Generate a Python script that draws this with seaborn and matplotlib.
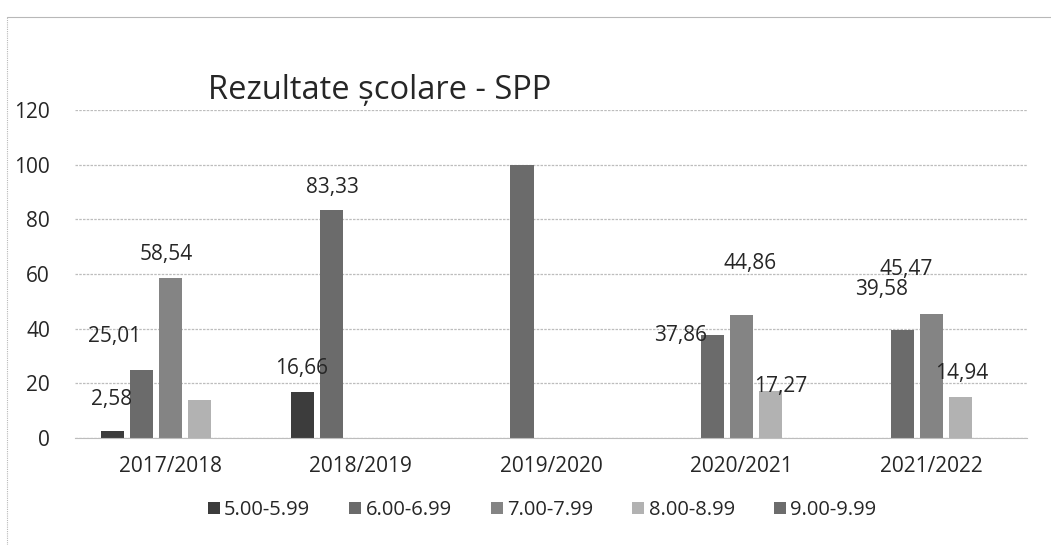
import numpy as np
import pandas as pd
import matplotlib
matplotlib.use('Agg')
import matplotlib.pyplot as plt
from matplotlib.lines import Line2D
import seaborn as sns

# Date
ani = ['2017/2018', '2018/2019', '2019/2020', '2020/2021', '2021/2022']
grupe = ['5.00-5.99', '6.00-6.99', '7.00-7.99', '8.00-8.99', '9.00-9.99']

medii_5 = [2.58, 16.66, 0, 0, 0]
medii_6 = [25.01, 83.33, 100, 37.86, 39.58]
medii_7 = [58.54, 0, 0, 44.86, 45.47]
medii_8 = [13.87, 0, 0, 17.27, 14.94]
medii_9 = [0, 0, 0, 0, 0]

# etichetele vizibile: (an, grupa) -> deplasare (px) fata de varful barei
etichete = {
    (0, 0): (-1, 31), (0, 1): (-27, 33), (0, 2): (-4, 23),
    (1, 0): (-1, 24), (1, 1): (1, 23),
    (3, 1): (-32, -1), (3, 2): (9, 52), (3, 3): (10, 4),
    (4, 1): (-21, 40), (4, 2): (-26, 44), (4, 3): (1, 24),
}

culori = ['#3c3c3c', '#6b6b6b', '#848484', '#b2b2b2', '#6c6c6c']

serii = [medii_5, medii_6, medii_7, medii_8, medii_9]
df = pd.DataFrame([
    {'an': a, 'grupa': g, 'procent': s[i]}
    for g, s in zip(grupe, serii) for i, a in enumerate(ani)
])

sns.set_style('white')
plt.rcParams['font.family'] = ['Open Sans', 'DejaVu Sans']
FONT = '#262626'

fig = plt.figure(figsize=(10.51, 5.45), dpi=100)
ax = fig.add_axes([75 / 1051, 107 / 545, 952 / 1051, 328 / 545])

sns.barplot(data=df, x='an', y='procent', hue='grupa', order=ani, hue_order=grupe,
            palette=culori, width=0.76, gap=0.2, linewidth=0, ax=ax, legend=False)

ax.set_ylim(0, 120)
ax.set_yticks(range(0, 121, 20))
ax.set_xlim(-0.5, 4.5)
ax.set_xlabel(''); ax.set_ylabel('')
ax.grid(axis='y', color='#bdbdbd', linewidth=0.9, linestyle=(0, (2, 1)))
ax.set_axisbelow(True)
for s in ['top', 'right', 'left']:
    ax.spines[s].set_visible(False)
ax.spines['bottom'].set_color('#bdbdbd')
ax.tick_params(axis='both', length=0, labelsize=15, labelcolor=FONT)
ax.tick_params(axis='y', pad=18)
ax.tick_params(axis='x', pad=13)

# etichete de date
for gi, cont in enumerate(ax.containers):
    for ai, bar in enumerate(cont):
        if (ai, gi) not in etichete:
            continue
        dx, dy = etichete[(ai, gi)]
        val = serii[gi][ai]
        ax.annotate(f'{val:.2f}'.replace('.', ','),
                    (bar.get_x() + bar.get_width() / 2, bar.get_height()),
                    xytext=(dx, dy), textcoords='offset pixels',
                    ha='center', va='center', fontsize=15, color=FONT)

fig.text(208 / 1051, 1 - 90 / 545, 'Rezultate școlare - SPP', fontsize=23.5,
         color=FONT, ha='left', va='center')

handles = [Line2D([], [], marker='s', linestyle='none', markersize=9,
                  markerfacecolor=c, markeredgewidth=0) for c in culori]
fig.legend(handles, grupe, loc='center', bbox_to_anchor=(541 / 1051, 1 - 510 / 545),
           ncol=5, frameon=False, fontsize=14.5, handletextpad=0.1,
           columnspacing=1.85, handlelength=0.8, labelcolor=FONT)

# chenarul graficului
fig.add_artist(Line2D([7 / 1051, 1], [1 - 17 / 545] * 2, color='#b8b8b8', lw=0.8))
fig.add_artist(Line2D([7 / 1051] * 2, [0, 1 - 17 / 545], color='#b8b8b8', lw=0.8,
                      linestyle=(0, (1, 1))))

fig.savefig('out.png', dpi=100)
